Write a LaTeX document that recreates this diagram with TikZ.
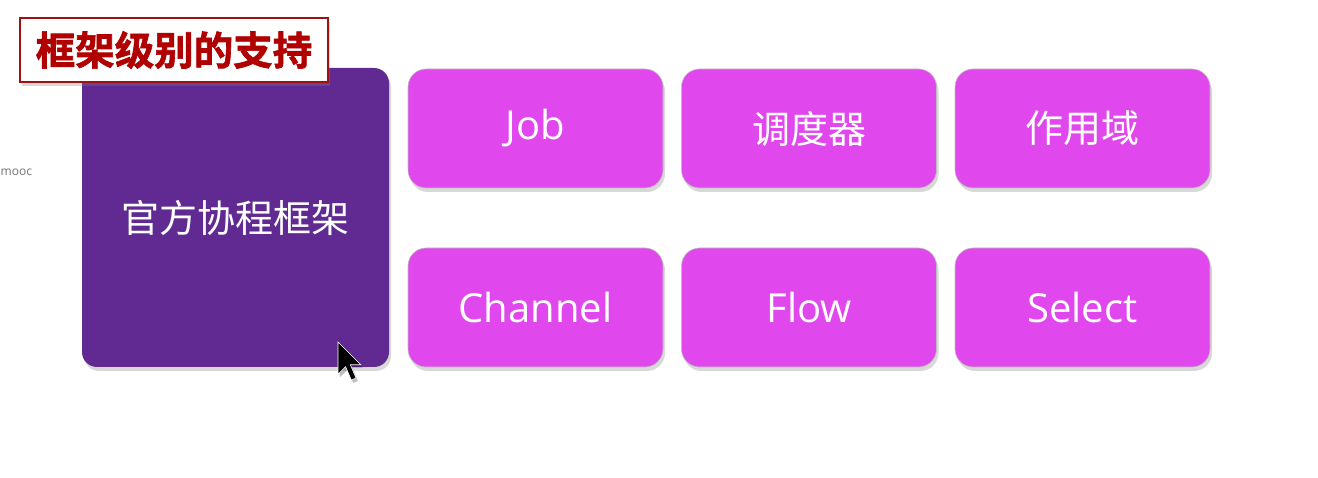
\documentclass[tikz,border=0pt]{standalone}
\usepackage{fontspec}
\setmainfont{Open Sans}
\newfontfamily\cjk{Noto Sans CJK SC}[BoldFont={Noto Sans CJK SC Bold}]
\newfontfamily\cjkheavy{Noto Sans CJK SC Bold}[FakeBold=1.6]
\usetikzlibrary{shadows}
\definecolor{deeppurple}{HTML}{612A93}
\definecolor{magentabox}{HTML}{E048EE}
\definecolor{titlered}{HTML}{B00000}
\definecolor{titleborder}{HTML}{A01010}
\tikzset{
  shad/.style={drop shadow={opacity=0.3,shadow xshift=2pt,shadow yshift=-4pt}},
  bigbox/.style={shad,fill=deeppurple,draw=none,rounded corners=15pt,minimum width=307pt,minimum height=299pt,text=white,font=\cjk\fontsize{38}{44}\selectfont,inner sep=0pt},
  smallbox/.style={shad,fill=magentabox,draw=black!25,line width=0.6pt,rounded corners=18pt,minimum width=255pt,minimum height=119pt,text=white,font=\fontsize{40}{46}\selectfont,inner sep=0pt},
  cjkfont/.style={font=\cjk\fontsize{38}{44}\selectfont},
  titlebox/.style={shad,fill=white,draw=titleborder,line width=1.5pt,minimum width=308pt,minimum height=64pt,text=titlered,font=\cjkheavy\fontsize{39.5}{44}\selectfont,inner sep=0pt},
}
\begin{document}
\begin{tikzpicture}[x=1pt,y=-1pt]
\useasboundingbox[fill=white] (0,0) rectangle (1318,478);
\node[text=black!55,font=\fontsize{12}{14}\selectfont,anchor=west,inner sep=0pt] (wm) at (0.5,172) {mooc};
\node[bigbox] (core) at (235.5,217.5) {官方协程框架};
\node[smallbox] (job) at (535.5,128.5) {Job};
\node[smallbox,cjkfont] (sched) at (809,128.5) {调度器};
\node[smallbox,cjkfont] (scope) at (1082.5,128.5) {作用域};
\node[smallbox] (chan) at (535.5,307.5) {Channel};
\node[smallbox] (flow) at (809,307.5) {Flow};
\node[smallbox] (sel) at (1082.5,307.5) {Select};
\node[titlebox] (title) at (174,50) {框架级别的支持};
% mouse cursor
\begin{scope}[shift={(338,342)},scale=1.9]
\fill[black,opacity=0.25,shift={(1,1.5)}] (0,0) -- (0,17) -- (4,13) -- (7,20) -- (9.5,19) -- (6.5,12) -- (12,12) -- cycle;
\draw[fill=black,draw=white,line width=0.6pt,line join=miter] (0,0) -- (0,17) -- (4,13) -- (7,20) -- (9.5,19) -- (6.5,12) -- (12,12) -- cycle;
\end{scope}
\end{tikzpicture}
\end{document}
